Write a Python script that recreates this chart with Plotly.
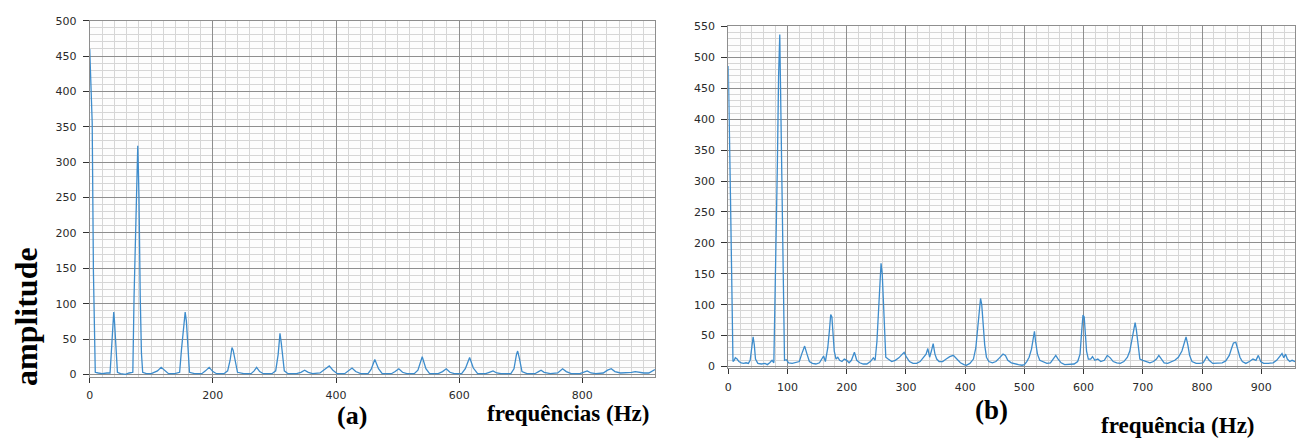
import plotly.graph_objects as go

# Spectrum (a): frequency (Hz) and amplitude
freq_a = [0, 2, 4, 6, 7, 9, 14, 20, 28, 33, 35, 37, 38, 39, 40, 41, 43, 45, 50, 58, 64, 70, 72, 74, 76, 78, 79, 80,
          82, 84, 86, 92, 100, 110, 116, 122, 128, 138, 146, 149, 152, 155, 157, 159, 162, 170, 182, 188, 194, 200,
          206, 218, 224, 228, 231, 233, 236, 240, 250, 262, 267, 271, 276, 282, 296, 302, 306, 309, 311, 313, 316,
          322, 336, 343, 349, 355, 362, 374, 382, 389, 395, 402, 414, 420, 426, 432, 440, 452, 457, 463, 469, 475,
          490, 496, 502, 508, 515, 527, 533, 540, 546, 552, 566, 573, 579, 585, 592, 604, 610, 617, 623, 630, 643,
          649, 655, 661, 668, 684, 689, 693, 695, 698, 702, 710, 723, 729, 733, 738, 748, 760, 768, 774, 782, 796,
          803, 808, 814, 822, 834, 841, 847, 853, 862, 874, 880, 886, 892, 900, 908, 914, 918]
amp_a = [460, 420, 356, 145, 84, 3, 2, 1, 2, 2, 30, 62, 80, 88, 78, 60, 30, 3, 1, 0, 2, 3, 110, 190, 285, 323, 290, 250,
         110, 30, 3, 1, 1, 5, 10, 5, 1, 1, 3, 35, 60, 88, 75, 45, 3, 1, 1, 5, 10, 4,
         1, 1, 5, 20, 38, 34, 18, 3, 1, 1, 5, 10, 4, 1, 1, 5, 28, 58, 45, 25, 5,
         1, 1, 3, 6, 3, 1, 2, 7, 12, 6, 1, 1, 5, 9, 4, 1, 1, 7, 21, 8, 1,
         1, 4, 8, 3, 1, 1, 6, 25, 8, 1, 1, 4, 8, 3, 1, 1, 8, 24, 9, 1, 1,
         3, 5, 2, 1, 1, 8, 28, 33, 22, 4, 1, 1, 4, 6, 3, 1, 2, 8, 4, 1, 1,
         3, 5, 2, 1, 2, 6, 8, 4, 2, 2, 3, 4, 3, 2, 2, 5, 7]

# Spectrum (b): frequency (Hz) and amplitude
freq_b = [0, 1, 2, 4, 6, 8, 10, 12, 15, 18, 22, 26, 30, 34, 37, 40, 42, 44, 46, 50, 56, 62, 66, 70, 74, 77, 79, 81, 83,
          85, 87, 88, 90, 92, 94, 95, 98, 102, 108, 114, 120, 124, 129, 133, 137, 142, 148, 154, 158, 161, 164, 168,
          171, 173, 175, 177, 179, 182, 185, 188, 192, 196, 200, 204, 208, 213, 217, 222, 228, 234, 240, 245, 248,
          251, 254, 256, 258, 260, 262, 264, 266, 270, 276, 282, 288, 294, 297, 301, 306, 312, 318, 324, 330, 334,
          337, 340, 343, 346, 349, 352, 356, 362, 368, 374, 380, 386, 392, 398, 402, 408, 414, 418, 421, 423, 426,
          428, 430, 433, 436, 440, 446, 452, 458, 464, 468, 472, 478, 484, 490, 496, 500, 504, 508, 512, 515, 517,
          519, 522, 526, 532, 538, 544, 549, 553, 557, 562, 568, 576, 584, 590, 594, 597, 599, 601, 603, 605, 608,
          612, 615, 619, 624, 629, 635, 640, 645, 650, 656, 662, 668, 674, 678, 682, 685, 687, 689, 692, 695, 700,
          706, 712, 718, 723, 727, 731, 736, 742, 748, 754, 760, 766, 770, 773, 776, 779, 783, 790, 796, 802, 808,
          812, 818, 826, 834, 840, 846, 850, 853, 857, 860, 864, 868, 874, 880, 886, 891, 895, 899, 904, 912, 920,
          926, 932, 935, 938, 941, 944, 948, 952, 957]
amp_b = [486, 450, 378, 260, 95, 8, 10, 14, 12, 8, 6, 5, 6, 5, 10, 30, 48, 35, 12, 5, 4, 5, 3, 6, 10, 6, 100, 210, 330,
         470, 537, 470, 350, 215, 95, 10, 11, 6, 5, 6, 8, 20, 33, 20, 8, 5, 4, 6, 12, 17, 8, 30,
         60, 84, 80, 55, 25, 12, 15, 10, 8, 12, 10, 6, 10, 23, 10, 6, 4, 4, 8, 14, 10,
         40, 100, 130, 167, 150, 100, 50, 15, 12, 8, 10, 14, 20, 23, 15, 8, 5, 5, 8, 15, 20,
         29, 15, 25, 37, 20, 12, 8, 8, 12, 16, 18, 12, 6, 3, 2, 5, 12, 30, 60, 85, 110,
         100, 70, 35, 15, 8, 6, 8, 14, 20, 18, 10, 6, 4, 3, 2, 3, 8, 15, 28, 45, 57,
         40, 20, 10, 8, 5, 6, 12, 18, 12, 6, 3, 3, 4, 8, 20, 60, 83, 80, 55, 25, 12,
         12, 16, 10, 12, 8, 10, 18, 14, 8, 6, 5, 8, 15, 25, 45, 65, 71, 60, 30, 12, 10,
         8, 6, 8, 12, 18, 12, 6, 5, 8, 10, 15, 25, 38, 48, 35, 18, 8, 5, 5, 6, 16,
         10, 5, 5, 6, 9, 18, 30, 38, 39, 30, 15, 8, 5, 8, 12, 10, 18, 8, 5, 5, 6,
         10, 18, 21, 14, 20, 12, 8, 10, 8]

LINE = "#3d8ccc"
MAJOR = "#8e8e8e"
MINOR = "#d6d6d6"
TICK_FONT = dict(family="DejaVu Sans", size=11, color="#2a2a2a")
SERIF = "Liberation Serif"
W, H = 1301, 442

fig = go.Figure()
fig.add_trace(go.Scatter(x=freq_a, y=amp_a, mode="lines", line=dict(color=LINE, width=1.3),
                         xaxis="x", yaxis="y", showlegend=False, hoverinfo="skip"))
fig.add_trace(go.Scatter(x=freq_b, y=amp_b, mode="lines", line=dict(color=LINE, width=1.3),
                         xaxis="x2", yaxis="y2", showlegend=False, hoverinfo="skip"))


def xaxis(domain, rng, dtick, anchor):
    return dict(domain=domain, range=rng, dtick=dtick, tick0=0, anchor=anchor,
                showgrid=True, gridcolor=MAJOR, gridwidth=1,
                minor=dict(dtick=20, tick0=0, showgrid=True, gridcolor=MINOR, gridwidth=1),
                ticks="outside", ticklen=5, tickcolor="#333", tickfont=TICK_FONT,
                ticklabelstandoff=3,
                showline=True, linecolor=MAJOR, mirror=True, zeroline=False, fixedrange=True)


def yaxis(domain, rng, anchor):
    return dict(domain=domain, range=rng, dtick=50, tick0=0, anchor=anchor,
                showgrid=True, gridcolor=MAJOR, gridwidth=1,
                minor=dict(dtick=10, tick0=0, showgrid=True, gridcolor=MINOR, gridwidth=1),
                ticks="outside", ticklen=6, tickcolor="#333", tickfont=TICK_FONT,
                ticklabelstandoff=4,
                showline=True, linecolor=MAJOR, mirror=True, zeroline=False, fixedrange=True)


def label(text, px, py, size, angle=0):
    # place a text by pixel position on the page
    return dict(text=text, x=px / W, y=1 - py / H, xref="paper", yref="paper",
                xanchor="center", yanchor="middle", textangle=angle, showarrow=False,
                font=dict(family=SERIF, size=size, color="black"))


fig.update_layout(
    width=W, height=H,
    margin=dict(l=0, r=0, t=0, b=0),
    paper_bgcolor="white", plot_bgcolor="#fdfdfd",
    xaxis=xaxis([0.0661, 0.5019], [0, 918], 200, "y"),
    yaxis=yaxis([0.1403, 0.966], [-3, 500], "x"),
    xaxis2=xaxis([0.5584, 0.9954], [0, 957], 100, "y2"),
    yaxis2=yaxis([0.1593, 0.9525], [-3, 550], "x2"),
    annotations=[
        label("<b>amplitude</b>", 22, 318, 32, -90),
        label("<b>(a)</b>", 349, 420, 26),
        label("<b>frequências (Hz)</b>", 566, 418, 23),
        label("<b>(b)</b>", 991, 414, 27),
        label("<b>frequência (Hz)</b>", 1178, 430, 23),
    ],
)

fig.write_html("out.html")
